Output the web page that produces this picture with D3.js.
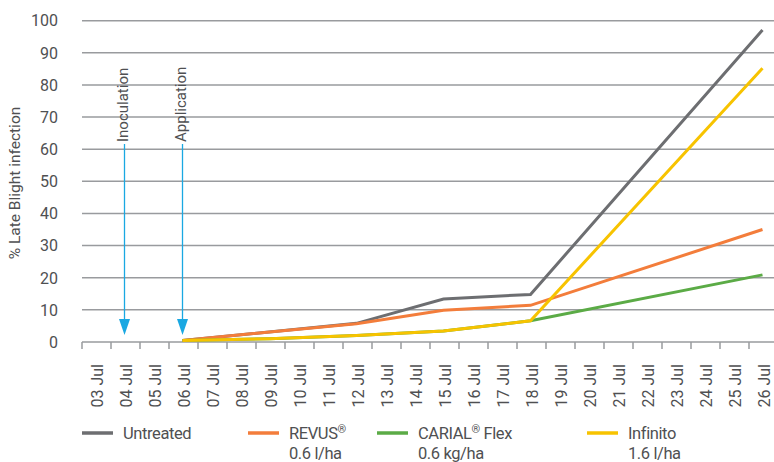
<!DOCTYPE html>
<html>
<head>
<meta charset="utf-8">
<script src="https://cdn.jsdelivr.net/npm/d3@7"></script>
<style>
  body { margin: 0; background: #fff; }
  svg { display: block; font-family: Roboto, "Liberation Sans", sans-serif; }
  text { fill: #4f5052; }
</style>
</head>
<body>
<svg id="chart" width="774" height="462"></svg>
<script>
// data
var days = ["03 Jul", "04 Jul", "05 Jul", "06 Jul", "07 Jul", "08 Jul", "09 Jul", "10 Jul",
  "11 Jul", "12 Jul", "13 Jul", "14 Jul", "15 Jul", "16 Jul", "17 Jul", "18 Jul",
  "19 Jul", "20 Jul", "21 Jul", "22 Jul", "23 Jul", "24 Jul", "25 Jul", "26 Jul"];
var yTicks = [0, 10, 20, 30, 40, 50, 60, 70, 80, 90, 100];

var untreatedDays = ["06 Jul", "12 Jul", "15 Jul", "18 Jul", "26 Jul"];
var untreatedValues = [0.5, 5.8, 13.4, 14.8, 97.1];
var revusDays = ["06 Jul", "12 Jul", "15 Jul", "18 Jul", "26 Jul"];
var revusValues = [0.5, 5.7, 9.9, 11.4, 35];
var carialDays = ["06 Jul", "09 Jul", "12 Jul", "15 Jul", "18 Jul", "26 Jul"];
var carialValues = [0.5, 1.0, 2.0, 3.4, 6.6, 20.9];
var infinitoDays = ["06 Jul", "09 Jul", "12 Jul", "15 Jul", "18 Jul", "26 Jul"];
var infinitoValues = [0.5, 1.0, 2.0, 3.4, 6.6, 85.2];

var eventDays = ["04 Jul", "06 Jul"];
var eventLabels = ["Inoculation", "Application"];

var seriesNames = ["Untreated", "REVUS", "CARIAL", "Infinito"];
var seriesColors = ["#6d6e71", "#f37d3b", "#5bab46", "#f7c300"];

// layout
var svg = d3.select("#chart");
var W = 774;
var x = d3.scaleBand().domain(days).range([82, 778]);
var y = d3.scaleLinear().domain([0, 100]).range([342, 20.7]);
var cx = function(d) { return x(d) + x.bandwidth() / 2 - 1; };

// gridlines
svg.append("g").selectAll("line")
  .data(yTicks.filter(function(t) { return t > 0; }))
  .enter().append("line")
  .attr("x1", 82).attr("x2", W)
  .attr("y1", function(d) { return y(d); })
  .attr("y2", function(d) { return y(d); })
  .attr("stroke", "#999b9e")
  .attr("stroke-width", 1.5);

// y tick labels
svg.append("g").selectAll("text")
  .data(yTicks)
  .enter().append("text")
  .attr("x", 58)
  .attr("y", function(d) { return y(d); })
  .attr("dy", "0.36em")
  .attr("text-anchor", "end")
  .style("font-size", "16px")
  .text(function(d) { return d; });

svg.append("text")
  .attr("transform", "translate(20,183) rotate(-90)")
  .attr("text-anchor", "middle")
  .style("font-size", "15.5px")
  .text("% Late Blight infection");

// x axis
var xAxis = svg.append("g");
xAxis.append("line")
  .attr("x1", 82).attr("x2", W)
  .attr("y1", y(0)).attr("y2", y(0))
  .attr("stroke", "#999b9e").attr("stroke-width", 1.5);
xAxis.selectAll("line.tick")
  .data(days)
  .enter().append("line")
  .attr("class", "tick")
  .attr("x1", function(d) { return x(d); })
  .attr("x2", function(d) { return x(d); })
  .attr("y1", y(0)).attr("y2", y(0) + 7)
  .attr("stroke", "#999b9e").attr("stroke-width", 1.5);
xAxis.selectAll("text")
  .data(days)
  .enter().append("text")
  .attr("transform", function(d) { return "translate(" + (x(d) + x.bandwidth() / 2 + 6) + ",364) rotate(-90)"; })
  .attr("text-anchor", "end")
  .style("font-size", "16px")
  .text(function(d) { return d; });

// event arrows
var ev = svg.append("g").selectAll("g")
  .data(eventDays)
  .enter().append("g");
ev.append("line")
  .attr("x1", function(d) { return cx(d); })
  .attr("x2", function(d) { return cx(d); })
  .attr("y1", 144).attr("y2", 322)
  .attr("stroke", "#1aa8e2").attr("stroke-width", 1.3);
ev.append("path")
  .attr("d", function(d) {
    var px = cx(d);
    return "M" + (px - 5.5) + ",319L" + (px + 5.5) + ",319L" + px + ",335Z";
  })
  .attr("fill", "#1aa8e2");
ev.append("text")
  .attr("transform", function(d) { return "translate(" + (cx(d) + 3) + ",142) rotate(-90)"; })
  .style("font-size", "15px")
  .text(function(d, i) { return eventLabels[i]; });

// lines
var line = d3.line()
  .x(function(d) { return cx(d[0]); })
  .y(function(d) { return y(d[1]); });
var series = [
  d3.zip(untreatedDays, untreatedValues),
  d3.zip(revusDays, revusValues),
  d3.zip(carialDays, carialValues),
  d3.zip(infinitoDays, infinitoValues)
];
svg.append("g").selectAll("path")
  .data(series)
  .enter().append("path")
  .attr("d", line)
  .attr("fill", "none")
  .attr("stroke", function(d, i) { return seriesColors[i]; })
  .attr("stroke-width", 3);

// legend
var legendX = [82, 248, 377, 587];
var leg = svg.append("g").selectAll("g")
  .data(seriesNames)
  .enter().append("g")
  .attr("transform", function(d, i) { return "translate(" + legendX[i] + ",433)"; });
leg.append("line")
  .attr("x1", 0).attr("x2", 31)
  .attr("stroke", function(d, i) { return seriesColors[i]; })
  .attr("stroke-width", 3.5);

var legLabels = [
  ["Untreated", "", ""],
  ["REVUS", "\u00ae", "0.6 l/ha"],
  ["CARIAL", "\u00ae Flex", "0.6 kg/ha"],
  ["Infinito", "", "1.6 l/ha"]
];
leg.each(function(d, i) {
  var g = d3.select(this);
  var t = g.append("text").attr("x", 41).attr("y", 6)
    .style("font-size", "16.5px").style("letter-spacing", "-0.4px");
  t.append("tspan").text(legLabels[i][0]);
  if (legLabels[i][1]) {
    t.append("tspan").attr("dy", -6).style("font-size", "11px").text("\u00ae");
    var rest = legLabels[i][1].slice(1);
    if (rest) t.append("tspan").attr("dy", 6).text(rest);
  }
  if (legLabels[i][2]) {
    g.append("text").attr("x", 41).attr("y", 26)
      .style("font-size", "16.5px").style("letter-spacing", "-0.4px")
      .text(legLabels[i][2]);
  }
});
</script>
</body>
</html>
